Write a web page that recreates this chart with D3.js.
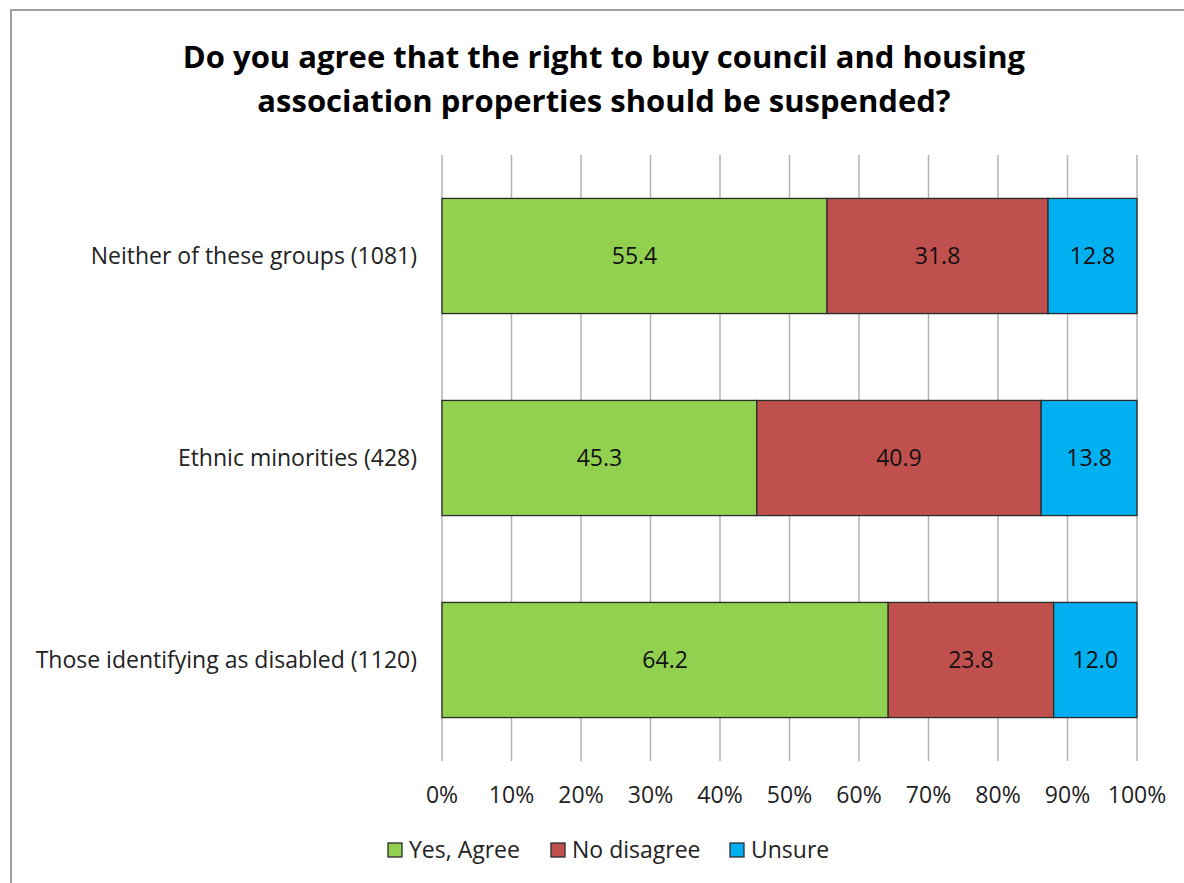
<!DOCTYPE html>
<html>
<head>
<meta charset="utf-8">
<script src="https://cdn.jsdelivr.net/npm/d3@7"></script>
<style>
  body { margin: 0; background: #fff; }
  svg { display: block; font-family: "Open Sans", sans-serif; }
</style>
</head>
<body>
<svg id="chart" width="1184" height="883"></svg>
<script>
  "use strict";

  // donnees
  var categories = ["Neither of these groups (1081)", "Ethnic minorities (428)", "Those identifying as disabled (1120)"];
  var series = ["Yes, Agree", "No disagree", "Unsure"];
  var agree = [55.4, 45.3, 64.2];
  var disagree = [31.8, 40.9, 23.8];
  var unsure = [12.8, 13.8, 12.0];
  var ticks = [0, 10, 20, 30, 40, 50, 60, 70, 80, 90, 100];
  var colors = ["#92D050", "#C0504D", "#00B0F0"];

  var svg = d3.select("#chart");
  var margin = {top: 155, left: 442, right: 47, bottom: 122};
  var width = 1184 - margin.left - margin.right;
  var height = 883 - margin.top - margin.bottom;

  // cadre gris du graphique
  svg.append("path")
    .attr("d", "M11,883 L11,10 L1184,10")
    .attr("fill", "none")
    .attr("stroke", "#a0a0a0")
    .attr("stroke-width", 2);

  // titre
  var title = svg.append("text")
    .attr("text-anchor", "middle")
    .style("font-size", "31px")
    .style("font-weight", "bold")
    .attr("fill", "#000");
  title.append("tspan").attr("x", 604).attr("y", 68)
    .text("Do you agree that the right to buy council and housing");
  title.append("tspan").attr("x", 604).attr("y", 112)
    .text("association properties should be suspended?");

  var x = d3.scaleLinear().domain([0, 100]).range([margin.left, margin.left + width]);
  var y = d3.scaleBand().domain(categories)
    .range([margin.top, margin.top + height])
    .paddingInner(0.43).paddingOuter(0.215);

  // grille verticale
  svg.append("g")
    .selectAll("line")
    .data(ticks)
    .enter().append("line")
    .attr("x1", d => x(d)).attr("x2", d => x(d))
    .attr("y1", margin.top).attr("y2", margin.top + height)
    .attr("stroke", "#b3b3b3")
    .attr("stroke-width", 1.5);

  // etiquettes de l'axe x
  svg.append("g")
    .selectAll("text")
    .data(ticks)
    .enter().append("text")
    .attr("x", d => x(d))
    .attr("y", 803)
    .attr("text-anchor", "middle")
    .style("font-size", "23px")
    .attr("fill", "#222")
    .text(d => d + "%");

  // etiquettes des categories
  svg.append("g")
    .selectAll("text")
    .data(categories)
    .enter().append("text")
    .attr("x", 417)
    .attr("y", d => y(d) + y.bandwidth() / 2)
    .attr("dy", "0.35em")
    .attr("text-anchor", "end")
    .style("font-size", "23px")
    .attr("fill", "#222")
    .text(d => d);

  // empilement
  var rows = categories.map((c, i) => ({cat: c, v: [agree[i], disagree[i], unsure[i]]}));
  var segs = [];
  rows.forEach(function(r) {
    var x0 = 0;
    r.v.forEach(function(v, k) {
      segs.push({cat: r.cat, k: k, x0: x0, x1: x0 + v, v: v});
      x0 += v;
    });
  });

  var bars = svg.append("g");
  bars.selectAll("rect")
    .data(segs)
    .enter().append("rect")
    .attr("x", d => x(d.x0))
    .attr("y", d => y(d.cat))
    .attr("width", d => x(d.x1) - x(d.x0))
    .attr("height", y.bandwidth())
    .attr("fill", d => colors[d.k])
    .attr("stroke", "#2b2b2b")
    .attr("stroke-width", 1.3);

  bars.selectAll("text")
    .data(segs)
    .enter().append("text")
    .attr("x", d => (x(d.x0) + x(d.x1)) / 2)
    .attr("y", d => y(d.cat) + y.bandwidth() / 2)
    .attr("dy", "0.35em")
    .attr("text-anchor", "middle")
    .style("font-size", "23px")
    .attr("fill", "#111")
    .text(d => d.v.toFixed(1));

  // legende
  var legX = [388, 551, 730];
  var leg = svg.append("g");
  series.forEach(function(s, i) {
    leg.append("rect")
      .attr("x", legX[i]).attr("y", 843)
      .attr("width", 14).attr("height", 14)
      .attr("fill", colors[i])
      .attr("stroke", "#2b2b2b").attr("stroke-width", 1.3);
    leg.append("text")
      .attr("x", legX[i] + 21).attr("y", 858)
      .style("font-size", "23px")
      .attr("fill", "#222")
      .text(s);
  });
</script>
</body>
</html>
